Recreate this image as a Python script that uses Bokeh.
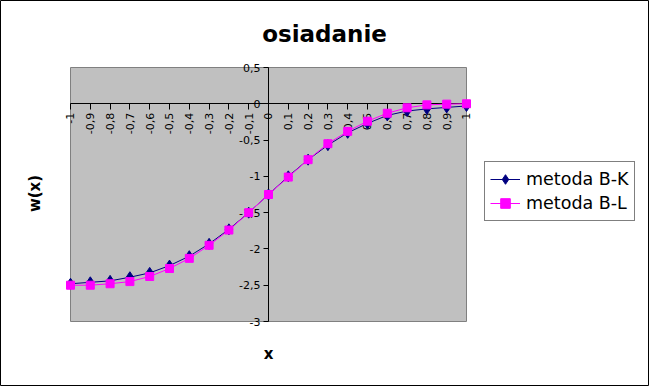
import math
from bokeh.plotting import figure
from bokeh.models import (LinearAxis, FixedTicker, CustomJSTickFormatter, Range1d,
                          Label, Legend, LegendItem)
from bokeh.embed import file_html
from bokeh.resources import INLINE

# ---- data ----
x_vals = [-1.0, -0.9, -0.8, -0.7, -0.6, -0.5, -0.4, -0.3, -0.2, -0.1, 0.0,
          0.1, 0.2, 0.3, 0.4, 0.5, 0.6, 0.7, 0.8, 0.9, 1.0]
metoda_bk = [-2.48, -2.46, -2.44, -2.39, -2.33, -2.23, -2.10, -1.93, -1.73, -1.50, -1.25,
             -1.00, -0.77, -0.57, -0.40, -0.27, -0.16, -0.10, -0.07, -0.05, -0.03]
metoda_bl = [-2.50, -2.50, -2.48, -2.45, -2.38, -2.27, -2.13, -1.95, -1.74, -1.50, -1.25,
             -1.01, -0.77, -0.55, -0.38, -0.24, -0.13, -0.055, -0.015, -0.005, 0.0]
series_names = ["metoda B-K", "metoda B-L"]

x_ticks = [-1.0, -0.9, -0.8, -0.7, -0.6, -0.5, -0.4, -0.3, -0.2, -0.1, 0.0,
           0.1, 0.2, 0.3, 0.4, 0.5, 0.6, 0.7, 0.8, 0.9, 1.0]
x_tick_labels = ["-1", "-0,9", "-0,8", "-0,7", "-0,6", "-0,5", "-0,4", "-0,3", "-0,2", "-0,1", "0",
                 "0,1", "0,2", "0,3", "0,4", "0,5", "0,6", "0,7", "0,8", "0,9", "1"]
y_ticks = [0.5, 0.0, -0.5, -1.0, -1.5, -2.0, -2.5, -3.0]
y_tick_labels = ["0,5", "0", "-0,5", "-1", "-1,5", "-2", "-2,5", "-3"]
x_axis_min, x_axis_max = -1.0, 1.0
y_axis_min, y_axis_max = -3.0, 0.5

title_text = "osiadanie"
x_label = "x"
y_label = "w(x)"

FONT = "DejaVu Sans"
W, H = 649, 386
# plot area in pixels (left, right, top, bottom)
PL, PR, PT, PB = 70, 466, 67, 321
sx = (PR - PL) / (x_axis_max - x_axis_min)
sy = (PB - PT) / (y_axis_max - y_axis_min)
xr = Range1d(x_axis_min - PL / sx, x_axis_max + (W - PR) / sx)
yr = Range1d(y_axis_min - (H - PB) / sy, y_axis_max + PT / sy)

p = figure(width=W, height=H, output_backend="svg", toolbar_location=None,
           x_range=xr, y_range=yr, x_axis_location=None, y_axis_location=None,
           min_border=0)
p.background_fill_color = "white"
p.border_fill_color = "white"
p.outline_line_color = "black"
p.outline_line_width = 1
for g in p.grid:
    g.visible = False

# gray plot area (drawn below everything)
p.quad(left=[x_axis_min], right=[x_axis_max], bottom=[y_axis_min], top=[y_axis_max],
       fill_color="#C0C0C0", line_color="#808080", line_width=1, level="image")

fmt_code = """
const i = tv.findIndex(t => Math.abs(t - tick) < 1e-9);
return i >= 0 ? tl[i] : '';
"""

xaxis = LinearAxis(fixed_location=0, bounds=(x_axis_min, x_axis_max),
                   ticker=FixedTicker(ticks=x_ticks),
                   formatter=CustomJSTickFormatter(args=dict(tv=x_ticks, tl=x_tick_labels), code=fmt_code),
                   major_label_orientation=math.pi / 2,
                   major_tick_out=6, major_tick_in=0, minor_tick_out=0, minor_tick_in=0,
                   axis_line_color="black", major_tick_line_color="black",
                   major_label_text_font=FONT, major_label_text_font_size="11px",
                   major_label_text_color="black", major_label_standoff=3, level="underlay")
p.add_layout(xaxis, "below")

yaxis = LinearAxis(fixed_location=0, bounds=(y_axis_min, y_axis_max),
                   ticker=FixedTicker(ticks=y_ticks),
                   formatter=CustomJSTickFormatter(args=dict(tv=y_ticks, tl=y_tick_labels), code=fmt_code),
                   major_tick_out=5, major_tick_in=0, minor_tick_out=0, minor_tick_in=0,
                   axis_line_color="black", major_tick_line_color="black",
                   major_label_text_font=FONT, major_label_text_font_size="11px",
                   major_label_text_color="black", major_label_standoff=3, level="underlay")
p.add_layout(yaxis, "left")

l1 = p.line(x_vals, metoda_bk, line_color="#000080", line_width=1)
s1 = p.scatter(x_vals, metoda_bk, marker="diamond", size=11, fill_color="#000080", line_color="#000080")
l2 = p.line(x_vals, metoda_bl, line_color="#FF00FF", line_width=1)
s2 = p.scatter(x_vals, metoda_bl, marker="square", size=8, fill_color="#FF00FF", line_color="#FF00FF")

legend = Legend(items=[LegendItem(label=series_names[0], renderers=[l1, s1]),
                       LegendItem(label=series_names[1], renderers=[l2, s2])],
                location=(484, H - 221), border_line_color="black", border_line_width=1,
                background_fill_color="white", background_fill_alpha=1.0,
                label_text_font=FONT, label_text_font_size="17.5px", label_text_color="black",
                glyph_width=30, glyph_height=24, label_height=24, label_standoff=6,
                padding=5, spacing=0, margin=0)
p.add_layout(legend, "center")

p.add_layout(Label(x=0.283, y=0.962, text=title_text, text_align="center", text_baseline="middle",
                   text_font=FONT, text_font_size="23px", text_font_style="bold", text_color="black"))
p.add_layout(Label(x=-1.177, y=-1.236, text=y_label, angle=math.pi / 2, text_align="center",
                   text_baseline="middle", text_font=FONT, text_font_size="15px", text_font_style="bold",
                   text_color="black"))
p.add_layout(Label(x=0.0, y=-3.441, text=x_label, text_align="center", text_baseline="middle",
                   text_font=FONT, text_font_size="15px", text_font_style="bold", text_color="black"))

open("out.html", "w").write(file_html(p, INLINE))
